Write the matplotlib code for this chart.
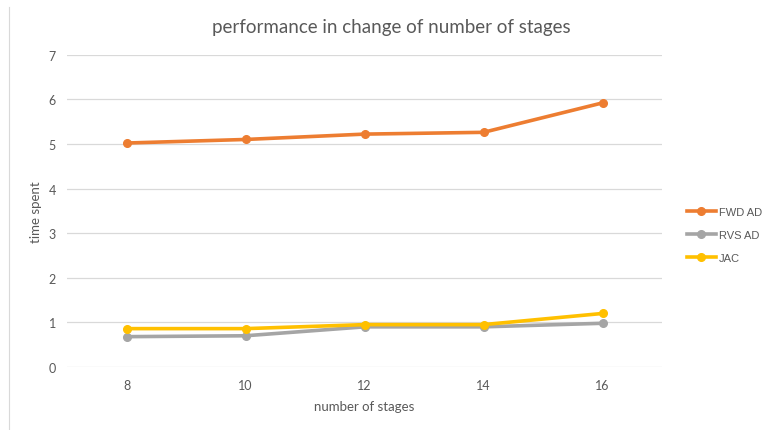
import matplotlib
matplotlib.use("Agg")
import matplotlib.pyplot as plt
from matplotlib.lines import Line2D

# Data: time spent versus number of stages
stages = ["8", "10", "12", "14", "16"]
fwd_ad = [5.02, 5.10, 5.22, 5.26, 5.92]
rvs_ad = [0.68, 0.70, 0.90, 0.90, 0.98]
jac = [0.86, 0.86, 0.95, 0.95, 1.20]
series_names = ["FWD AD", "RVS AD", "JAC"]
colors = ["#ED7D31", "#A5A5A5", "#FFC000"]
y_ticks = [0, 1, 2, 3, 4, 5, 6, 7]

W, H = 762, 431
fig = plt.figure(figsize=(W / 100, H / 100), dpi=100)
fig.patch.set_facecolor("white")

left, right, bottom, top = 67, 662, 368, 55.7
ax = fig.add_axes([left / W, (H - bottom) / H, (right - left) / W, (bottom - top) / H])

text_color = "#595959"
font = "Lato"

x = list(range(len(stages)))
for vals, name, c in zip([fwd_ad, rvs_ad, jac], series_names, colors):
    ax.plot(x, vals, color=c, lw=2.6, marker="o", ms=5.5, label=name,
            solid_capstyle="round", zorder=3)

ax.set_xlim(-0.5, len(stages) - 0.5)
ax.set_ylim(0, 7)
ax.set_yticks(y_ticks)
ax.set_xticks(x)
ax.set_xticklabels(stages)
ax.grid(axis="y", color="#D9D9D9", lw=0.9)
ax.set_axisbelow(True)
for s in ax.spines.values():
    s.set_visible(False)
ax.tick_params(length=0, colors=text_color, labelsize=9)
ax.tick_params(axis="y", pad=8)
ax.tick_params(axis="x", pad=9)
for lab in ax.get_xticklabels() + ax.get_yticklabels():
    lab.set_fontfamily(font)

ax.set_xlabel("number of stages", fontsize=9.5, color=text_color, family=font, labelpad=6)
ax.yaxis.set_label_coords(-(67 - 42) / (right - left), 0.5)
ax.set_ylabel("time spent", fontsize=9.5, color=text_color, family=font)

fig.text(391 / W, 1 - 27 / H, "performance in change of number of stages",
         ha="center", va="center", fontsize=13.5, color=text_color, family=font)

# Legend on the right side
handles = [Line2D([], [], color=c, lw=2.6, marker="o", ms=5.5) for c in colors]
leg = fig.legend(handles, series_names, loc="center left",
                 bbox_to_anchor=(677 / W, 1 - 236 / H), frameon=False,
                 handlelength=2.6, handletextpad=0.3, labelspacing=1.2,
                 prop={"family": "Liberation Sans", "size": 8})
for t in leg.get_texts():
    t.set_color(text_color)

# Faint chart-area border on the left
fig.add_artist(Line2D([9 / W, 9 / W], [0.0, 1 - 8 / H], transform=fig.transFigure,
                      color="#D9D9D9", lw=0.8))

fig.savefig("out.png", dpi=100, facecolor="white")
